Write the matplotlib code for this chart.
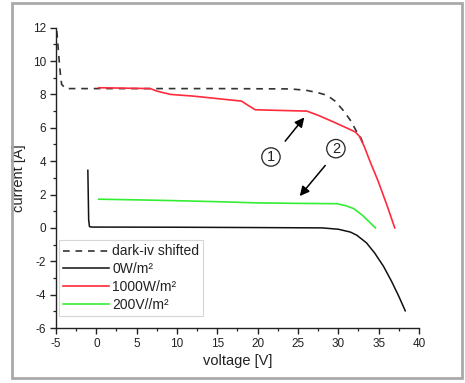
import matplotlib
matplotlib.use("Agg")
import matplotlib.pyplot as plt
from matplotlib.patches import Rectangle

plt.rcParams['font.family'] = ['Liberation Sans', 'DejaVu Sans']
plt.rcParams['axes.unicode_minus'] = False

# I-V curves of the module (voltage [V], current [A])
dark_v = [-4.9, -4.75, -4.6, -4.45, -4.3, -3.8, 5, 15, 24, 26, 27.5, 28.6, 29.6, 30.6, 31.5, 32.3, 32.7, 33.3]
dark_i = [11.8, 10.9, 10.0, 9.2, 8.6, 8.35, 8.35, 8.35, 8.33, 8.25, 8.1, 7.95, 7.6, 7.05, 6.45, 5.75, 5.5, 4.8]

v0 = [-1.05, -1.0, -0.95, -0.85, -0.6, 10, 20, 28, 30, 31.5, 32.3, 33.5, 34.5, 35.6, 36.6, 37.5, 38.3]
i0 = [3.45, 2.0, 0.5, 0.08, 0.05, 0.04, 0.02, 0.0, -0.08, -0.25, -0.44, -0.9, -1.5, -2.3, -3.2, -4.1, -4.97]

v1000 = [0.3, 3, 6.7, 7.5, 9.2, 12, 15, 18, 18.8, 19.7, 22, 26.1, 27.5, 29.4, 31, 32.1, 32.6, 33.2, 34.0, 34.9, 36, 37]
i1000 = [8.4, 8.38, 8.35, 8.2, 8.0, 7.9, 7.75, 7.6, 7.35, 7.08, 7.05, 7.0, 6.75, 6.35, 6.0, 5.75, 5.5, 4.9, 3.9, 2.85, 1.4, 0.0]

v200 = [0.3, 5, 10, 15, 19.9, 25, 29.8, 30.8, 31.9, 33, 34.6]
i200 = [1.72, 1.68, 1.63, 1.57, 1.5, 1.47, 1.45, 1.35, 1.16, 0.75, 0.0]

labels = ["dark-iv shifted", "0W/m²", "1000W/m²", "200V//m²"]
x_ticks = [-5, 0, 5, 10, 15, 20, 25, 30, 35, 40]
y_ticks = [-6, -4, -2, 0, 2, 4, 6, 8, 10, 12]

fig = plt.figure(figsize=(4.65, 3.83), dpi=100)
fig.patch.set_facecolor('white')
fig.patches.append(Rectangle((0.0258, 0.013), 0.9677, 0.979, transform=fig.transFigure,
                             fill=False, edgecolor='#a9a9a9', linewidth=2.0, zorder=0))

ax = fig.add_axes([0.1204, 0.1436, 0.7806, 0.7841])
ax.plot(dark_v, dark_i, color='#333333', lw=1.2, ls=(0, (4, 3.5)), label=labels[0])
ax.plot(v0, i0, color='#111111', lw=1.1, label=labels[1])
ax.plot(v1000, i1000, color='#ff2a3c', lw=1.2, label=labels[2])
ax.plot(v200, i200, color='#33ee33', lw=1.2, label=labels[3])

ax.set_xlim(-5, 40)
ax.set_ylim(-6, 12)
ax.set_xticks(x_ticks)
ax.set_yticks(y_ticks)
ax.set_xticks([t + 2.5 for t in x_ticks[:-1]], minor=True)
ax.set_yticks([t + 1 for t in y_ticks[:-1]], minor=True)
ax.tick_params(which='major', direction='out', length=4, width=1, labelsize=8.5,
               colors='#222222', pad=3)
ax.tick_params(which='minor', direction='out', length=2.5, width=0.9, colors='#222222')
for s in ['top', 'right']:
    ax.spines[s].set_visible(False)
for s in ['left', 'bottom']:
    ax.spines[s].set_linewidth(1.0)
    ax.spines[s].set_color('#222222')

ax.set_xlabel("voltage [V]", fontsize=10.5, color='#222222', labelpad=3)
ax.set_ylabel("current [A]", fontsize=10.5, color='#222222')
ax.yaxis.set_label_coords(-0.082, 0.5)

leg = ax.legend(loc='lower left', bbox_to_anchor=(0.0, 0.03), fontsize=10,
                frameon=True, fancybox=False, handlelength=3.3, handletextpad=0.25,
                labelspacing=0.28, borderpad=0.3, borderaxespad=0.2)
leg.get_frame().set_edgecolor('#cccccc')
leg.get_frame().set_linewidth(0.8)
for t in leg.get_texts():
    t.set_color('#222222')

# numbered markers with arrows
arrow = dict(arrowstyle='-|>', color='black', lw=1.1, mutation_scale=14)
circ = dict(boxstyle='circle,pad=0.15', fc='white', ec='#222222', lw=0.9)
ax.annotate("", xy=(26.0, 6.75), xytext=(23.2, 5.07), arrowprops=arrow)
ax.annotate("", xy=(25.0, 1.78), xytext=(28.6, 3.87), arrowprops=arrow)
ax.text(21.65, 4.25, "1", fontsize=10.5, ha='center', va='center', bbox=circ, color='#222222')
ax.text(29.7, 4.75, "2", fontsize=10.5, ha='center', va='center', bbox=circ, color='#222222')

fig.savefig("out.png", dpi=100)
